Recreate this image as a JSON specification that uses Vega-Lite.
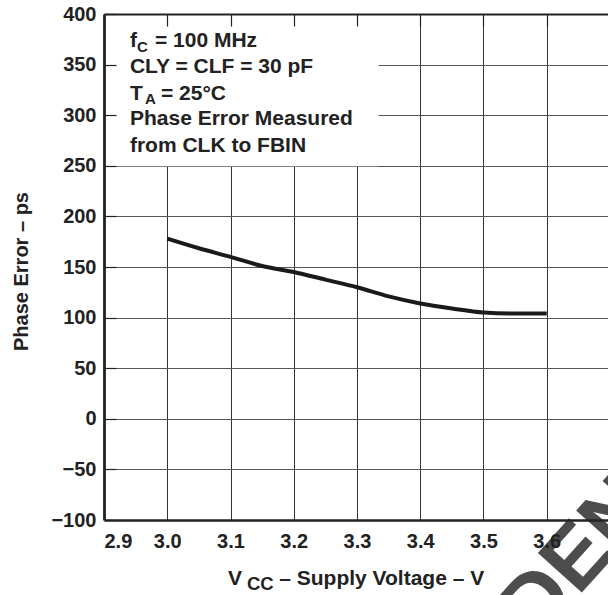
{
  "$schema": "https://vega.github.io/schema/vega-lite/v6.json",
  "width": 506,
  "height": 506,
  "autosize": {"type": "none"},
  "padding": {"left": 104, "top": 14, "right": 0, "bottom": 75},
  "background": "white",
  "config": {"view": {"stroke": null}, "font": "Liberation Sans"},
  "resolve": {"axis": {"x": "independent", "y": "independent"}},
  "layer": [
    {
      "data": {"values": [{"x0": 2.9, "x1": 3.334, "y0": 249.6, "y1": 400}]},
      "mark": {"type": "rect", "fill": "white", "stroke": null},
      "encoding": {
        "x": {"field": "x0", "type": "quantitative", "scale": {"domain": [2.9, 3.7], "nice": false, "zero": false},
          "axis": {"orient": "bottom", "values": [3.0, 3.1, 3.2, 3.3, 3.4, 3.5, 3.6, 3.7], "grid": true, "gridColor": "#333", "gridWidth": 1, "labels": false, "ticks": false, "domain": false, "title": null, "zindex": 0}},
        "x2": {"field": "x1"},
        "y": {"field": "y0", "type": "quantitative", "scale": {"domain": [-100, 400], "nice": false, "zero": false},
          "axis": {"orient": "left", "values": [-50, 0, 50, 100, 150, 200, 250, 300, 350], "grid": true, "gridColor": "#555", "gridWidth": 1, "labels": false, "ticks": false, "domain": false, "title": null, "zindex": 0}},
        "y2": {"field": "y1"}
      }
    },
    {
      "data": {"values": [
        {"vcc": 3.0, "pe": 178},
        {"vcc": 3.05, "pe": 168.5},
        {"vcc": 3.1, "pe": 160},
        {"vcc": 3.15, "pe": 151},
        {"vcc": 3.2, "pe": 145},
        {"vcc": 3.25, "pe": 137.5},
        {"vcc": 3.3, "pe": 130},
        {"vcc": 3.35, "pe": 121},
        {"vcc": 3.4, "pe": 114},
        {"vcc": 3.45, "pe": 109},
        {"vcc": 3.5, "pe": 105},
        {"vcc": 3.55, "pe": 104},
        {"vcc": 3.6, "pe": 104}
      ]},
      "mark": {"type": "line", "color": "#1a1a1a", "strokeWidth": 4, "interpolate": "monotone"},
      "encoding": {
        "x": {"field": "vcc", "type": "quantitative",
          "axis": {"orient": "bottom", "values": [2.9, 3.0, 3.1, 3.2, 3.3, 3.4, 3.5, 3.6], "format": ".1f", "grid": false, "ticks": false, "domainColor": "#222", "domainWidth": 2.5, "labelFont": "Liberation Sans", "labelFontSize": 20, "labelFontWeight": "bold", "labelColor": "#222", "labelPadding": 11, "title": null, "zindex": 1}},
        "y": {"field": "pe", "type": "quantitative",
          "axis": {"orient": "left", "values": [-100, -50, 0, 50, 100, 150, 200, 250, 300, 350, 400], "format": "d", "grid": false, "tickSize": -12, "tickColor": "#222", "tickWidth": 1.2, "domainColor": "#222", "domainWidth": 2.8, "labelFont": "Liberation Sans", "labelFontSize": 20, "labelFontWeight": "bold", "labelColor": "#222", "labelPadding": 20, "title": "Phase Error – ps", "titleFont": "Liberation Sans", "titleFontSize": 20, "titleFontWeight": "bold", "titleColor": "#222", "titleX": -77, "titleY": 257, "titleAngle": -90, "titleAlign": "center", "titleBaseline": "alphabetic", "zindex": 1}}
      }
    },
    {
      "data": {"values": [
        {"tx": 3.27, "ty": -400.8, "label": "CONFIDENTIAL"}
      ]},
      "mark": {"type": "text", "font": "Liberation Sans", "fontSize": 86, "fontWeight": "bold", "color": "#4d4d4d", "align": "left", "baseline": "middle", "angle": -48},
      "encoding": {
        "x": {"field": "tx", "type": "quantitative", "axis": null},
        "y": {"field": "ty", "type": "quantitative", "axis": null},
        "text": {"field": "label"}
      }
    },
    {
      "data": {"values": [
        {"tx": 2.941, "ty": 367.4, "label": "f"},
        {"tx": 2.9806, "ty": 367.4, "label": "= 100 MHz"},
        {"tx": 2.941, "ty": 341.7, "label": "CLY = CLF = 30 pF"},
        {"tx": 2.941, "ty": 315.0, "label": "T"},
        {"tx": 2.990, "ty": 315.0, "label": "= 25°C"},
        {"tx": 2.941, "ty": 290.3, "label": "Phase Error Measured"},
        {"tx": 2.941, "ty": 263.6, "label": "from CLK to FBIN"},
        {"tx": 3.096, "ty": -164.2, "label": "V"},
        {"tx": 3.177, "ty": -164.2, "label": "– Supply Voltage – V"}
      ]},
      "mark": {"type": "text", "font": "Liberation Sans", "fontSize": 21, "fontWeight": "bold", "color": "#222", "align": "left", "baseline": "alphabetic"},
      "encoding": {
        "x": {"field": "tx", "type": "quantitative",
          "axis": {"orient": "top", "values": [3.0, 3.1, 3.2, 3.3, 3.4, 3.5, 3.6], "labels": false, "grid": false, "tickSize": -12, "tickColor": "#222", "tickWidth": 1.2, "domainColor": "#222", "domainWidth": 2.2, "title": null, "zindex": 1}},
        "y": {"field": "ty", "type": "quantitative", "axis": null},
        "text": {"field": "label"}
      }
    },
    {
      "data": {"values": [
        {"tx": 2.952, "ty": 362.5, "label": "C"},
        {"tx": 2.9648, "ty": 310.6, "label": "A"}
      ]},
      "mark": {"type": "text", "font": "Liberation Sans", "fontSize": 15, "fontWeight": "bold", "color": "#222", "align": "left", "baseline": "alphabetic"},
      "encoding": {
        "x": {"field": "tx", "type": "quantitative", "axis": null},
        "y": {"field": "ty", "type": "quantitative", "axis": null},
        "text": {"field": "label"}
      }
    },
    {
      "data": {"values": [
        {"tx": 3.126, "ty": -169.2, "label": "CC"}
      ]},
      "mark": {"type": "text", "font": "Liberation Sans", "fontSize": 18.5, "fontWeight": "bold", "color": "#222", "align": "left", "baseline": "alphabetic"},
      "encoding": {
        "x": {"field": "tx", "type": "quantitative", "axis": null},
        "y": {"field": "ty", "type": "quantitative", "axis": null},
        "text": {"field": "label"}
      }
    }
  ]
}
